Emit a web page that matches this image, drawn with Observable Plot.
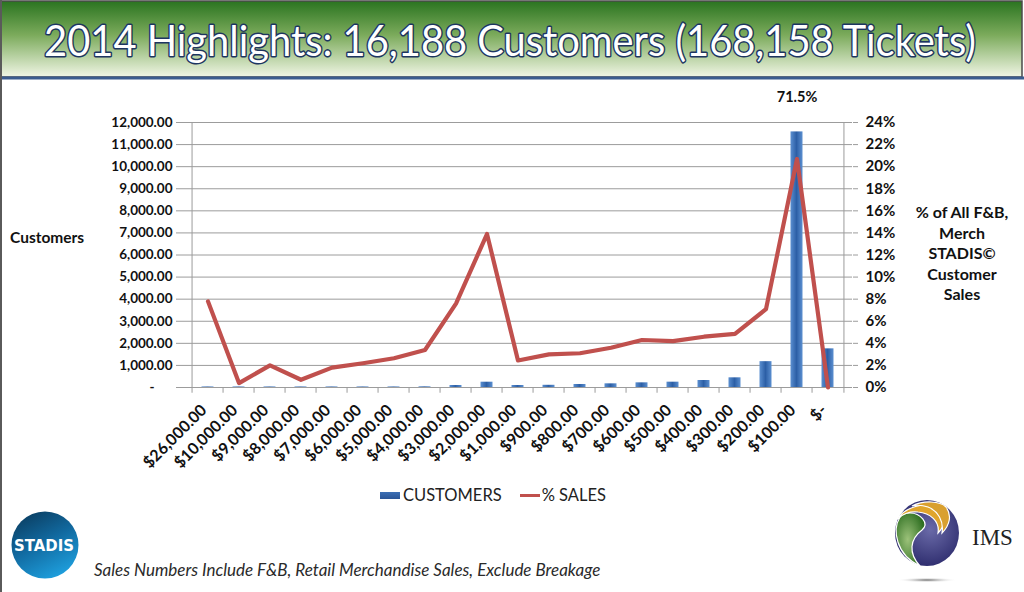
<!DOCTYPE html>
<html>
<head>
<meta charset="utf-8">
<script src="https://cdn.jsdelivr.net/npm/d3@7"></script>
<script src="https://cdn.jsdelivr.net/npm/@observablehq/plot@0.6"></script>
<style>
  html, body { margin: 0; padding: 0; background: #fff; }
  #page { position: relative; width: 1024px; height: 592px; overflow: hidden; background: #fff; font-family: Lato, "Open Sans", sans-serif; }
  #frameLeft { position: absolute; left: 0; top: 0; width: 2px; height: 592px; background: #5a5a5a; }
  #banner { position: absolute; left: 0; top: 0; width: 1024px; height: 80px; }
  #chart { position: absolute; left: 0; top: 80px; width: 1024px; height: 400px; }
  .ylab { position: absolute; font-weight: bold; color: #111; }
  #leftTitle { left: 10px; top: 228px; font-size: 15.5px; }
  #rightTitle { left: 900px; top: 202px; width: 124px; text-align: center; line-height: 20.5px; font-size: 16px; }
  #legend { position: absolute; top: 485px; left: 380px; display: flex; align-items: center; font-size: 16.5px; color: #222; white-space: nowrap; }
  #legend .sw { width: 20px; height: 7px; background: linear-gradient(#3c6fb5, #2a5596); margin-right: 3px; }
  #legend .ln { width: 20px; height: 3px; background: #c0504d; margin: 0 2px 0 18px; }
  #footnote { position: absolute; left: 94px; top: 559px; font-style: italic; font-size: 17px; color: #2a2a2a; white-space: nowrap; }
  #stadis { position: absolute; left: 10px; top: 511px; }
  #ims { position: absolute; left: 880px; top: 495px; }
</style>
</head>
<body>
<div id="page">
  <svg id="banner" width="1024" height="80">
    <defs>
      <linearGradient id="bannerGrad" x1="0" y1="0" x2="0" y2="1">
        <stop offset="0" stop-color="#2a7420"/>
        <stop offset="0.45" stop-color="#7cab5c"/>
        <stop offset="1" stop-color="#f1f6e6"/>
      </linearGradient>
    </defs>
    <rect x="1" y="1" width="1021" height="76" fill="url(#bannerGrad)" stroke="#4a4a4a" stroke-width="1.5"/>
    <line x1="0" y1="78" x2="1024" y2="78" stroke="#3b5c8f" stroke-width="3"/>
    <text id="titleText" x="0" y="0" text-anchor="middle" font-family="Lato, sans-serif" font-size="42" fill="#fff" stroke="#1d3560" stroke-width="3" paint-order="stroke" stroke-linejoin="round"></text>
  </svg>
  <div id="frameLeft"></div>
  <div id="chart"></div>
  <div id="leftTitle" class="ylab"></div>
  <div id="rightTitle" class="ylab"></div>
  <div id="legend"><div class="sw"></div><span id="lg1"></span><div class="ln"></div><span id="lg2"></span></div>
  <svg id="stadis" width="72" height="70">
    <defs>
      <linearGradient id="stadisGrad" x1="0.25" y1="0" x2="0.75" y2="1">
        <stop offset="0" stop-color="#0b3f63"/>
        <stop offset="0.45" stop-color="#11699f"/>
        <stop offset="1" stop-color="#1fa3e2"/>
      </linearGradient>
    </defs>
    <circle cx="35" cy="34" r="33.5" fill="url(#stadisGrad)"/>
    <text x="34" y="40" text-anchor="middle" font-family="DejaVu Sans, sans-serif" font-weight="bold" font-size="15" fill="#fff" textLength="60" lengthAdjust="spacingAndGlyphs">STADIS</text>
  </svg>
  <div id="footnote"></div>
  <svg id="ims" width="144" height="92">
    <defs>
      <radialGradient id="navyGrad" cx="0.55" cy="0.45" r="0.6">
        <stop offset="0" stop-color="#6a6aa8"/>
        <stop offset="1" stop-color="#2b2a6b"/>
      </radialGradient>
      <radialGradient id="greenGrad" cx="0.4" cy="0.5" r="0.6">
        <stop offset="0" stop-color="#9cc27a"/>
        <stop offset="1" stop-color="#2f6f22"/>
      </radialGradient>
      <radialGradient id="shadowGrad">
        <stop offset="0" stop-color="#666"/>
        <stop offset="1" stop-color="#fff" stop-opacity="0"/>
      </radialGradient>
    </defs>
    <ellipse cx="47" cy="38" rx="32" ry="33" fill="url(#navyGrad)"/>
    <path d="M 20 22 C 12 35 16 60 40 71 C 28 58 30 44 42 35 C 50 28 40 18 30 18 C 26 18 22 19 20 22 Z" fill="url(#greenGrad)" stroke="#fff" stroke-width="1.2"/>
    <path d="M 18 24 C 24 12 44 8 56 10 C 66 14 68 28 58 38 C 60 26 50 18 38 17 C 30 16 22 19 18 24 Z" fill="#e0a52c" stroke="#fff" stroke-width="1.2"/>
    <path d="M 32 11 C 44 5 60 6 66 12 C 72 20 70 30 62 38 C 64 26 58 16 48 12 C 42 10 36 10 32 11 Z" fill="#d9a030" stroke="#fff" stroke-width="1.2"/>
    <text x="92" y="50" font-family="Liberation Serif, serif" font-size="23" fill="#222">IMS</text>
    <ellipse cx="47" cy="85" rx="30" ry="2.5" fill="url(#shadowGrad)"/>
  </svg>
</div>
<script>
// ---- data ----
const titleText = "2014 Highlights: 16,188 Customers (168,158 Tickets)";
const categories = ["$26,000.00","$10,000.00","$9,000.00","$8,000.00","$7,000.00","$6,000.00","$5,000.00","$4,000.00","$3,000.00","$2,000.00","$1,000.00","$900.00","$800.00","$700.00","$600.00","$500.00","$400.00","$300.00","$200.00","$100.00","$-"];
const customers = [25, 25, 25, 25, 25, 25, 25, 30, 90, 240, 90, 100, 136, 166, 211, 241, 317, 438, 1170, 11574, 1750];
const pctSales = [7.8, 0.4, 2.0, 0.7, 1.8, 2.2, 2.65, 3.4, 7.6, 13.9, 2.45, 3.0, 3.1, 3.6, 4.3, 4.2, 4.6, 4.85, 7.1, 20.7, 0];
const leftTicks = [0, 1000, 2000, 3000, 4000, 5000, 6000, 7000, 8000, 9000, 10000, 11000, 12000];
const rightTicks = [0, 2, 4, 6, 8, 10, 12, 14, 16, 18, 20, 22, 24];
const peakCategory = "$100.00";
const peakLabel = "71.5%";
const seriesNames = ["CUSTOMERS", "% SALES"];
const leftTitle = "Customers";
const rightTitleLines = ["% of All F&B,", "Merch", "STADIS\u00a9", "Customer", "Sales"];
const footnote = "Sales Numbers Include F&B, Retail Merchandise Sales, Exclude Breakage";

// ---- title: fit the width by shrinking the font, then stretch vertically back ----
const tt = document.getElementById("titleText");
tt.textContent = titleText;
const baseSize = 42, targetWidth = 932;
const natural = tt.getComputedTextLength();
let fs = baseSize;
if (natural > targetWidth) fs = baseSize * targetWidth / natural;
tt.setAttribute("font-size", fs);
tt.setAttribute("stroke-width", 3 * fs / baseSize);
tt.setAttribute("transform", `translate(510,56) scale(1,${baseSize / fs})`);

document.getElementById("leftTitle").textContent = leftTitle;
document.getElementById("rightTitle").innerHTML = rightTitleLines.map(s => s.replace(/&/g, "&amp;")).join("<br>");
document.getElementById("lg1").textContent = seriesNames[0];
document.getElementById("lg2").textContent = seriesNames[1];
document.getElementById("footnote").textContent = footnote;

// ---- chart ----
const rows = categories.map((c, i) => ({category: c, customers: customers[i], pct: pctSales[i]}));
const W = 1024, H = 400, ML = 182, MR = 172, MT = 42, MB = 93;
const yMax = leftTicks[leftTicks.length - 1];
const pMax = rightTicks[rightTicks.length - 1];
const pctToY = p => p / pMax * yMax;
const bw = (W - ML - MR) / categories.length;
const gridColor = "#9c9c9c";
const first = categories[0], last = categories[categories.length - 1];

const chart = Plot.plot({
  width: W, height: H,
  marginLeft: ML, marginRight: MR, marginTop: MT, marginBottom: MB,
  style: {fontFamily: "Lato, sans-serif", fontWeight: "bold", color: "#111", background: "transparent", overflow: "visible"},
  x: {type: "band", domain: categories, padding: 0, axis: null},
  y: {domain: [0, yMax], axis: null},
  marks: [
    Plot.ruleY(leftTicks, {y: d => d, stroke: gridColor, strokeWidth: 1}),
    // category boundary ticks below the axis
    Plot.ruleX(categories, {x: d => d, dx: -bw / 2, y1: 0, y2: -260, stroke: gridColor}),
    Plot.ruleX([last], {x: d => d, dx: bw / 2, y1: 0, y2: -260, stroke: gridColor}),
    // axis lines
    Plot.ruleX([first], {x: d => d, dx: -bw / 2, y1: 0, y2: yMax, stroke: gridColor}),
    Plot.ruleX([last], {x: d => d, dx: bw / 2, y1: 0, y2: yMax, stroke: gridColor}),
    Plot.barY(rows, {x: "category", y: "customers", fill: "url(#barGrad)", insetLeft: 9.5, insetRight: 9.5}),
    Plot.line(rows, {x: "category", y: d => pctToY(d.pct), stroke: "#c0504d", strokeWidth: 4.2, strokeLinejoin: "round", strokeLinecap: "round"}),
    Plot.text(rows.filter(d => d.category === peakCategory), {x: "category", y: "customers", text: () => peakLabel, dy: -35, fontSize: 14.5, fontWeight: "bold"}),
    Plot.axisY(leftTicks, {anchor: "left", tickSize: 6, tickPadding: 4, stroke: gridColor, fontSize: 13.5, label: null,
      tickFormat: d => d === 0 ? "" : d3.format(",.2f")(d)}),
    Plot.text([0], {y: d => d, frameAnchor: "left", dx: -33, text: () => "-", fontSize: 13.5, fontWeight: "bold"}),
    Plot.axisY(rightTicks.map(pctToY), {anchor: "right", tickSize: 5, tickPadding: 8, stroke: gridColor, fontSize: 15, label: null,
      tickFormat: d => Math.round(d / yMax * pMax) + "%"}),
    Plot.axisX(categories, {tickRotate: -45, tickSize: 0, tickPadding: 20, dx: -4, fontSize: 16, label: null})
  ]
});

const defs = d3.select(chart).insert("defs", ":first-child");
const g = defs.append("linearGradient").attr("id", "barGrad").attr("x1", 0).attr("x2", 1).attr("y1", 0).attr("y2", 0);
g.append("stop").attr("offset", 0).attr("stop-color", "#5b8fd0");
g.append("stop").attr("offset", 0.5).attr("stop-color", "#2c5fa6");
g.append("stop").attr("offset", 1).attr("stop-color", "#5b8fd0");

document.getElementById("chart").appendChild(chart);
</script>
</body>
</html>
